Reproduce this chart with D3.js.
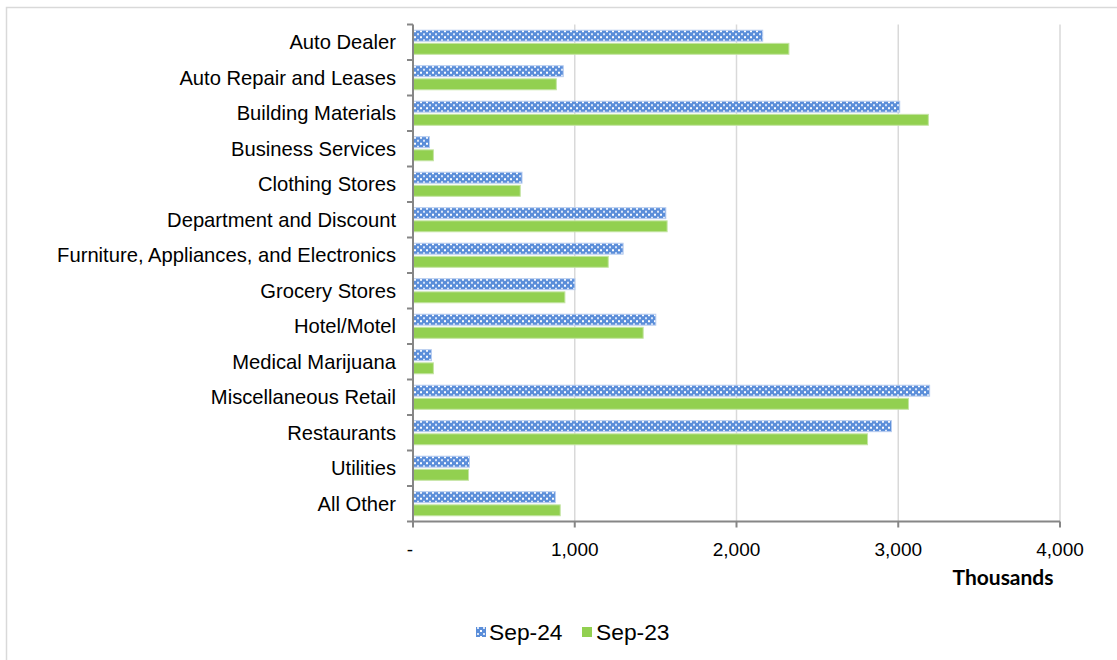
<!DOCTYPE html>
<html>
<head>
<meta charset="utf-8">
<script src="https://cdn.jsdelivr.net/npm/d3@7"></script>
<style>
  html, body { margin: 0; padding: 0; background: #fff; }
  svg { display: block; }
</style>
</head>
<body>
<svg id="chart" width="1117" height="660"></svg>
<script>
const categories = [
  "Auto Dealer", "Auto Repair and Leases", "Building Materials", "Business Services",
  "Clothing Stores", "Department and Discount", "Furniture, Appliances, and Electronics",
  "Grocery Stores", "Hotel/Motel", "Medical Marijuana", "Miscellaneous Retail",
  "Restaurants", "Utilities", "All Other"
];
const seriesNames = ["Sep-24", "Sep-23"];
const sep24 = [2159, 926, 3006, 99, 671, 1560, 1296, 998, 1498, 111, 3191, 2955, 346, 877];
const sep23 = [2321, 883, 3183, 123, 660, 1568, 1204, 936, 1420, 123, 3060, 2807, 340, 907];
const xTicks = [0, 1000, 2000, 3000, 4000];
const xTickLabels = ["-", "1,000", "2,000", "3,000", "4,000"];
const axisTitle = "Thousands";

(function () {
const svg = d3.select("#chart");
const pLeft = 413, pRight = 1060, pTop = 24.5, pBottom = 521.5;

// chart border
svg.append("rect").attr("x", 6.5).attr("y", 7.5).attr("width", 1130).attr("height", 670)
  .attr("fill", "#fff").attr("stroke", "#d9d9d9").attr("stroke-width", 1.5);

// pattern
const defs = svg.append("defs");
const pat = defs.append("pattern").attr("id", "dots").attr("patternUnits", "userSpaceOnUse")
  .attr("width", 6).attr("height", 6);
pat.append("rect").attr("width", 6).attr("height", 6).attr("fill", "#5b8ed9");
pat.append("rect").attr("x", 0).attr("y", 0).attr("width", 2).attr("height", 2).attr("fill", "#ffffff");
pat.append("rect").attr("x", 3).attr("y", 3).attr("width", 2).attr("height", 2).attr("fill", "#dbe6f8");

const x = d3.scaleLinear().domain([0, 4000]).range([pLeft, pRight]);
const y = d3.scaleBand().domain(categories).range([pTop, pBottom]).paddingInner(0.3226).paddingOuter(0.1613);
const y1 = d3.scaleBand().domain(seriesNames).range([0, y.bandwidth()]).paddingInner(4 / 24);

// gridlines
svg.append("g").selectAll("line").data(xTicks.slice(1)).join("line")
  .attr("x1", d => x(d)).attr("x2", d => x(d)).attr("y1", pTop).attr("y2", pBottom)
  .attr("stroke", "#d9d9d9").attr("stroke-width", 1.5);

// bars
const data = categories.map((c, i) => ({ c, vals: [sep24[i], sep23[i]] }));
const groups = svg.append("g").selectAll("g").data(data).join("g")
  .attr("transform", d => `translate(0,${y(d.c)})`);
groups.selectAll("rect").data(d => d.vals.map((v, j) => ({ s: seriesNames[j], v })))
  .join("rect")
  .attr("x", x(0) + 0.5)
  .attr("y", d => y1(d.s))
  .attr("width", d => x(d.v) - x(0))
  .attr("height", y1.bandwidth())
  .attr("fill", d => d.s === "Sep-24" ? "url(#dots)" : "#92d050")
  .attr("stroke", d => d.s === "Sep-24" ? "#b8cdf0" : "#c4e4a3")
  .attr("stroke-width", 1);

// y axis
const yAxis = svg.append("g").attr("transform", `translate(${pLeft},0)`);
yAxis.append("line").attr("x1", 0).attr("x2", 0).attr("y1", pTop).attr("y2", pBottom)
  .attr("stroke", "#868686").attr("stroke-width", 2);
const bounds = categories.map(c => y(c) - y.step() * y.paddingInner() / 2);
bounds.push(pBottom);
yAxis.selectAll("line.tk").data(bounds).join("line").attr("class", "tk")
  .attr("x1", -6).attr("x2", 0).attr("y1", d => d).attr("y2", d => d)
  .attr("stroke", "#868686").attr("stroke-width", 2);
yAxis.selectAll("text").data(categories).join("text")
  .attr("x", -17).attr("y", d => y(d) + y.bandwidth() / 2)
  .attr("dy", "0.35em").attr("text-anchor", "end")
  .attr("font-family", "Liberation Sans, Arial, sans-serif").attr("font-size", 20.2)
  .attr("fill", "#000").text(d => d);

// x axis
const xAxis = svg.append("g").attr("transform", `translate(0,${pBottom})`);
xAxis.append("line").attr("x1", pLeft).attr("x2", pRight).attr("stroke", "#868686").attr("stroke-width", 2);
xAxis.selectAll("line.tk").data(xTicks).join("line").attr("class", "tk")
  .attr("x1", d => x(d)).attr("x2", d => x(d)).attr("y1", 0).attr("y2", 6)
  .attr("stroke", "#868686").attr("stroke-width", 2);
xAxis.selectAll("text").data(xTicks).join("text")
  .attr("x", (d) => x(d) + (d === 0 ? -3 : 0)).attr("y", 28).attr("dy", "0.35em")
  .attr("text-anchor", "middle")
  .attr("font-family", "Liberation Sans, Arial, sans-serif").attr("font-size", 19)
  .attr("fill", "#000").text((d, i) => xTickLabels[i]);

svg.append("text").attr("x", 1003).attr("y", 578).attr("dy", "0.35em").attr("text-anchor", "middle")
  .attr("font-family", "Lato, Carlito, sans-serif").attr("font-weight", "bold").attr("font-size", 21)
  .attr("fill", "#000").text(axisTitle);

// legend
const legend = svg.append("g");
const legItems = [
  { name: seriesNames[0], fill: "url(#dots)", sx: 476, tx: 489 },
  { name: seriesNames[1], fill: "#92d050", sx: 582, tx: 596 }
];
legend.selectAll("rect").data(legItems).join("rect")
  .attr("x", d => d.sx).attr("y", 627).attr("width", 10).attr("height", 10)
  .attr("fill", d => d.fill);
legend.selectAll("text").data(legItems).join("text")
  .attr("x", d => d.tx).attr("y", 632).attr("dy", "0.35em")
  .attr("font-family", "Liberation Sans, Arial, sans-serif").attr("font-size", 22.8)
  .attr("fill", "#000").text(d => d.name);
})();
</script>
</body>
</html>
